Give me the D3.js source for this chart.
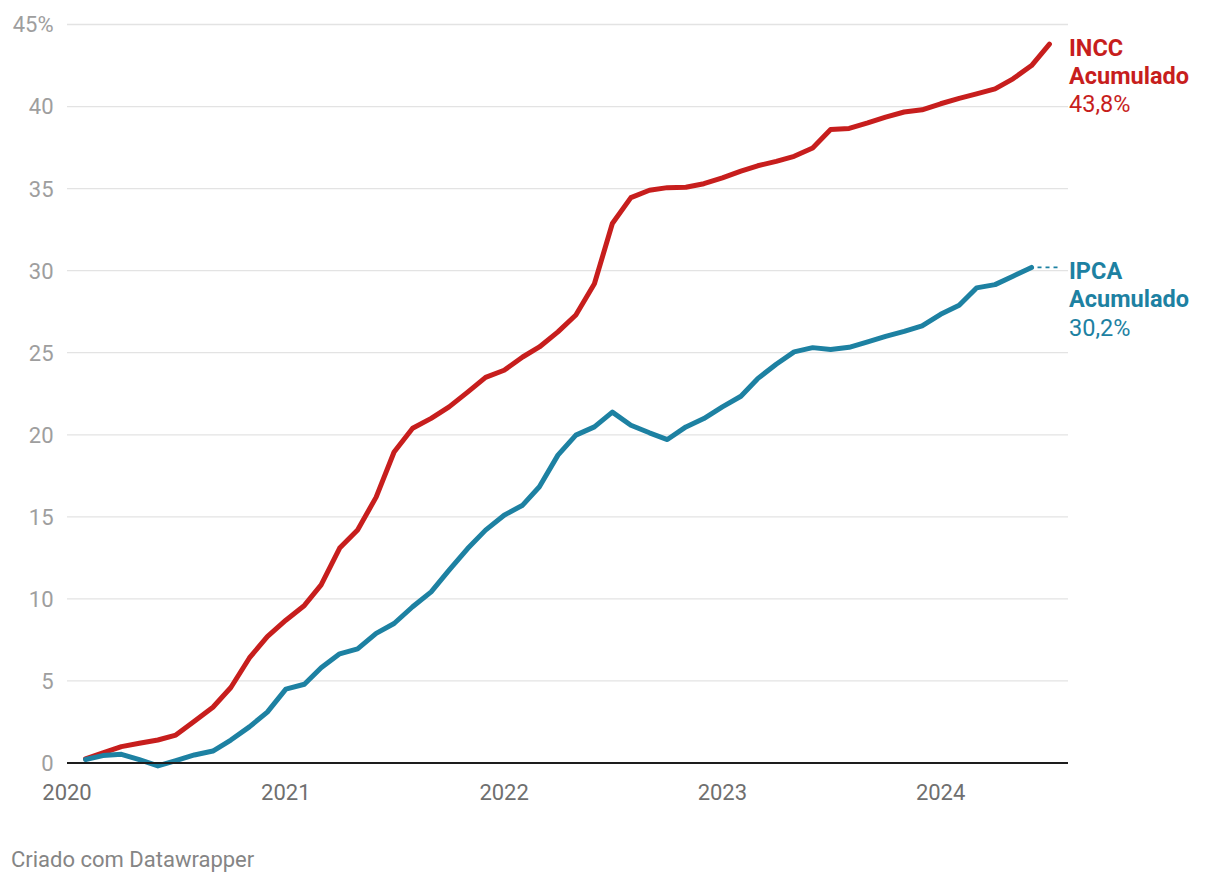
<!DOCTYPE html>
<html>
<head>
<meta charset="utf-8">
<script src="https://cdn.jsdelivr.net/npm/d3@7"></script>
<style>
  html, body { margin: 0; padding: 0; background: #fff; }
  svg { display: block; font-family: Roboto, "Noto Sans", sans-serif; }
</style>
</head>
<body>
<div id="chart"></div>
<script>
// monthly accumulated values since Jan 2020 (%)
const months = [
  '2020-01','2020-02','2020-03','2020-04','2020-05','2020-06','2020-07','2020-08','2020-09','2020-10','2020-11','2020-12',
  '2021-01','2021-02','2021-03','2021-04','2021-05','2021-06','2021-07','2021-08','2021-09','2021-10','2021-11','2021-12',
  '2022-01','2022-02','2022-03','2022-04','2022-05','2022-06','2022-07','2022-08','2022-09','2022-10','2022-11','2022-12',
  '2023-01','2023-02','2023-03','2023-04','2023-05','2023-06','2023-07','2023-08','2023-09','2023-10','2023-11','2023-12',
  '2024-01','2024-02','2024-03','2024-04','2024-05','2024-06'
];

const incc = [
  0.25, 0.62, 1.0, 1.2, 1.4, 1.7, 2.55, 3.4, 4.6, 6.4, 7.7, 8.7,
  9.6, 10.85, 13.1, 14.2, 16.2, 18.95, 20.4, 21.0, 21.7, 22.6, 23.5, 23.93,
  24.74, 25.35, 26.27, 27.3, 29.2, 32.87, 34.45, 34.9, 35.06, 35.08, 35.3, 35.65,
  36.06, 36.39, 36.66, 36.97, 37.47, 38.6, 38.67, 39.0, 39.36, 39.67, 39.8, 40.17,
  40.5, 40.77, 41.08, 41.69, 42.5, 43.8
];

const ipca = [
  0.21, 0.45, 0.53, 0.2, -0.18, 0.15, 0.49, 0.73, 1.4, 2.2, 3.1, 4.5,
  4.8, 5.8, 6.65, 6.95, 7.9, 8.5, 9.52, 10.43, 11.75, 13.07, 14.19, 15.1,
  15.71, 16.83, 18.76, 19.98, 20.48, 21.38, 20.58, 20.12, 19.71, 20.48, 20.99, 21.7,
  22.35, 23.42, 24.3, 25.05, 25.31, 25.19, 25.33, 25.66, 26.0, 26.3, 26.63, 27.34,
  27.89, 28.95, 29.15, 29.66, 30.2
];

const yTicks = [0, 5, 10, 15, 20, 25, 30, 35, 40, 45];
const xTickYears = ['2020', '2021', '2022', '2023', '2024'];

const seriesList = [
  { key: 'incc', name: 'INCC', values: incc, color: '#c71e1d', label: '43,8%' },
  { key: 'ipca', name: 'IPCA', values: ipca, color: '#1d81a2', label: '30,2%' }
];

const W = 1220, H = 882;
const plotLeft = 67, plotRight = 1068, plotTop = 24.5, plotBottom = 763;
const labelX = 1069;

const parseMonth = d3.timeParse('%Y-%m');
// each monthly value is drawn at the close of its month
const monthEnd = m => d3.timeMonth.offset(parseMonth(m), 1);

const x = d3.scaleTime()
  .domain([new Date(2020, 0, 1), new Date(2024, 7, 1)])
  .range([plotLeft, plotRight]);

const y = d3.scaleLinear().domain([0, 45]).range([plotBottom, plotTop]);

const svg = d3.select('#chart').append('svg')
  .attr('width', W).attr('height', H);

// grid + y labels
const grid = svg.append('g').attr('class', 'grid');
grid.selectAll('line').data(yTicks.filter(t => t !== 0)).enter().append('line')
  .attr('x1', plotLeft).attr('x2', plotRight)
  .attr('y1', d => y(d)).attr('y2', d => y(d))
  .attr('stroke', '#e3e3e3').attr('stroke-width', 1.3);

svg.append('g').selectAll('text').data(yTicks).enter().append('text')
  .attr('x', 53.5).attr('y', d => y(d)).attr('dy', '0.36em')
  .attr('text-anchor', 'end')
  .attr('fill', '#9e9e9e')
  .style('font-size', '22px')
  .text(d => d === 45 ? d + '%' : d);

// x labels
svg.append('g').selectAll('text').data(xTickYears).enter().append('text')
  .attr('x', d => x(new Date(+d, 0, 1))).attr('y', 800)
  .attr('text-anchor', 'middle')
  .attr('fill', '#6f6f6f')
  .style('font-size', '22px')
  .text(d => d);

// lines
const line = d3.line()
  .x((d, i) => x(monthEnd(months[i])))
  .y(d => y(d));

seriesList.forEach(s => {
  svg.append('path').datum(s.values)
    .attr('d', line)
    .attr('fill', 'none')
    .attr('stroke', s.color)
    .attr('stroke-width', 5)
    .attr('stroke-linejoin', 'round')
    .attr('stroke-linecap', 'round');
});

// baseline on top of lines
svg.append('line')
  .attr('x1', plotLeft).attr('x2', plotRight)
  .attr('y1', y(0)).attr('y2', y(0))
  .attr('stroke', '#1d1d1d').attr('stroke-width', 2);

// end labels
seriesList.forEach(s => {
  const n = s.values.length - 1;
  const lx = x(monthEnd(months[n]));
  const ly = y(s.values[n]);
  if (lx < plotRight - 25) {
    // connector for a line that stops short of the label column
    svg.append('line')
      .attr('x1', lx + 6).attr('x2', 1059)
      .attr('y1', ly).attr('y2', ly)
      .attr('stroke', s.color).attr('stroke-width', 1.8)
      .attr('stroke-dasharray', '4,4');
  }
  const t = svg.append('text')
    .attr('x', labelX).attr('y', ly + 12)
    .attr('fill', s.color)
    .style('font-size', '23.5px');
  t.append('tspan').attr('x', labelX).attr('font-weight', 700).text(s.name);
  t.append('tspan').attr('x', labelX).attr('dy', 28).attr('font-weight', 700).text('Acumulado');
  t.append('tspan').attr('x', labelX).attr('dy', 28.3).text(s.label);
});

svg.append('text')
  .attr('x', 11).attr('y', 866.5)
  .attr('fill', '#858585')
  .style('font-size', '22px')
  .text('Criado com Datawrapper');
</script>
</body>
</html>
